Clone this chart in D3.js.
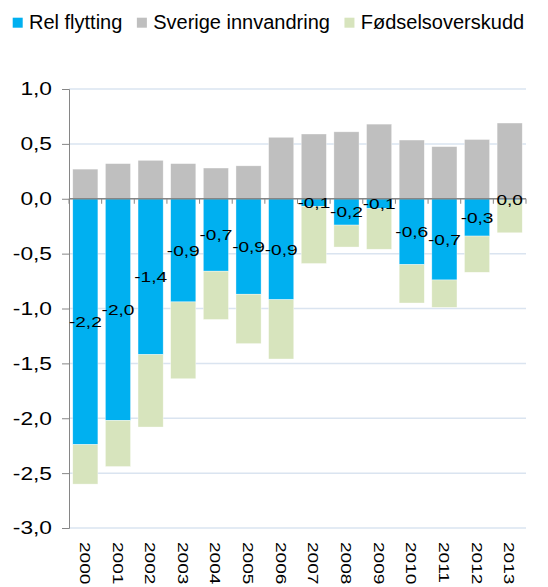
<!DOCTYPE html>
<html>
<head>
<meta charset="utf-8">
<script src="https://cdn.jsdelivr.net/npm/d3@7"></script>
<style>
  body { margin: 0; background: #fff; }
  svg text { font-family: "Liberation Sans", Arial, sans-serif; fill: #000; }
</style>
</head>
<body>
<script>
// data
var years = ["2000","2001","2002","2003","2004","2005","2006","2007","2008","2009","2010","2011","2012","2013"];
var relFlytting = [-2.24,-2.02,-1.42,-0.94,-0.66,-0.87,-0.92,-0.07,-0.24,-0.09,-0.60,-0.74,-0.34,-0.01];
var sverigeInnvandring = [0.27,0.32,0.35,0.32,0.28,0.30,0.56,0.59,0.61,0.68,0.535,0.475,0.54,0.69];
var fodselsoverskudd = [-0.36,-0.42,-0.66,-0.70,-0.44,-0.45,-0.54,-0.52,-0.20,-0.37,-0.35,-0.25,-0.33,-0.30];
var yTicks = [1, 0.5, 0, -0.5, -1, -1.5, -2, -2.5, -3];

var seriesNames = ["Rel flytting", "Sverige innvandring", "Fødselsoverskudd"];
var colors = ["#00b0f0", "#bfbfbf", "#d7e4bd"];

// set the dimensions and margins of the graph
var margin = {top: 89, right: 22, bottom: 59, left: 69},
    width = 548 - margin.left - margin.right,
    height = 587 - margin.top - margin.bottom;

var nb = d3.formatLocale({decimal: ",", thousands: " ", grouping: [3], currency: ["", ""], minus: "-"});
var fmt = nb.format(".1f");
var stretch = 1.23; // numbers in the original look horizontally stretched

// build rows for the stack
var rows = years.map(function(y, i) {
  return {year: y, "Rel flytting": relFlytting[i], "Sverige innvandring": sverigeInnvandring[i], "Fødselsoverskudd": fodselsoverskudd[i]};
});

var stacked = d3.stack()
    .keys(seriesNames)
    .offset(d3.stackOffsetDiverging)(rows);

// set the ranges
var x = d3.scaleBand().domain(years).range([0, width]).paddingInner(0.23).paddingOuter(0.115);
var y = d3.scaleLinear().domain([-3, 1]).range([height, 0]);

var root = d3.select("body").append("svg")
    .attr("width", 548)
    .attr("height", 587);

var svg = root.append("g")
    .attr("transform", "translate(" + margin.left + "," + margin.top + ")");

// gridlines
svg.append("g")
  .selectAll("line")
  .data(yTicks)
  .enter().append("line")
    .attr("x1", 0)
    .attr("x2", width)
    .attr("y1", function(d) { return y(d); })
    .attr("y2", function(d) { return y(d); })
    .style("stroke", "#dae4f0")
    .style("stroke-width", 1.5);

// bars
svg.append("g")
  .selectAll("g")
  .data(stacked)
  .enter().append("g")
    .style("fill", function(d, i) { return colors[i]; })
  .selectAll("rect")
  .data(function(d) { return d; })
  .enter().append("rect")
    .attr("x", function(d) { return x(d.data.year); })
    .attr("width", x.bandwidth())
    .attr("y", function(d) { return y(Math.max(d[0], d[1])); })
    .attr("height", function(d) { return Math.abs(y(d[0]) - y(d[1])); })
    .style("stroke", "#ffffff")
    .style("stroke-opacity", 0.6)
    .style("stroke-width", 0.6);

// y axis
var yAxis = svg.append("g")
    .call(d3.axisLeft(y).tickValues(yTicks).tickFormat(fmt).tickSize(7).tickPadding(10));
yAxis.select(".domain").style("stroke", "#868686");
yAxis.selectAll(".tick line").style("stroke", "#868686");
yAxis.selectAll(".tick text")
    .style("font-size", "18.5px")
    .attr("x", -17 / stretch)
    .attr("transform", "scale(" + stretch + ",1)");

// x axis at zero
var xAxis = svg.append("g").attr("transform", "translate(0," + y(0) + ")");
xAxis.append("line")
    .attr("x1", 0)
    .attr("x2", width)
    .style("stroke", "#868686")
    .style("stroke-width", 1.5);
xAxis.selectAll(".xt")
  .data(d3.range(years.length + 1))
  .enter().append("line")
    .attr("class", "xt")
    .attr("x1", function(i) { return i * x.step(); })
    .attr("x2", function(i) { return i * x.step(); })
    .attr("y1", 0)
    .attr("y2", 5)
    .style("stroke", "#868686");

// year labels, rotated
svg.append("g")
  .selectAll("text")
  .data(years)
  .enter().append("text")
    .attr("transform", function(d) {
      return "translate(" + (x(d) + x.bandwidth() / 2) + "," + (height + 14) + ") rotate(90) scale(" + stretch + ",1)";
    })
    .attr("dy", "0.35em")
    .style("font-size", "15.5px")
    .text(function(d) { return d; });

// data labels for Rel flytting, centred on the blue segment
svg.append("g")
  .selectAll("text")
  .data(relFlytting)
  .enter().append("text")
    .attr("transform", function(d, i) {
      return "translate(" + (x(years[i]) + x.bandwidth() / 2) + "," + y(d / 2) + ") scale(" + stretch + ",1)";
    })
    .attr("text-anchor", "middle")
    .attr("dy", "0.35em")
    .style("font-size", "15.5px")
    .text(function(d) { return fmt(d); });

// legend
var legend = root.append("g");
var lx = 12.7;
seriesNames.forEach(function(name, i) {
  legend.append("rect")
      .attr("x", lx)
      .attr("y", 17.7)
      .attr("width", 10)
      .attr("height", 10)
      .style("fill", colors[i]);
  var t = legend.append("text")
      .attr("x", lx + 16.3)
      .attr("y", 28.5)
      .style("font-size", "20px")
      .text(name);
  lx += 16.3 + t.node().getComputedTextLength() + 14.5;
});
</script>
</body>
</html>
